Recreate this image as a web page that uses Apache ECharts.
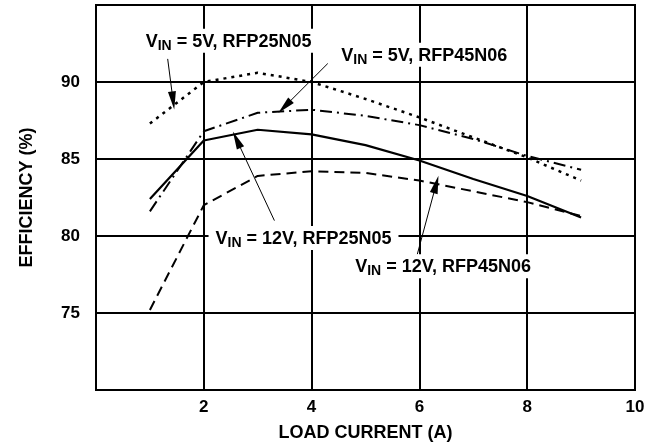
<!DOCTYPE html>
<html>
<head>
<meta charset="utf-8">
<script src="https://cdn.jsdelivr.net/npm/echarts@6/dist/echarts.min.js"></script>
<style>html,body{margin:0;padding:0;background:#fff}#c{width:650px;height:447px}</style>
</head>
<body>
<div id="c"></div>
<script>
// Load current (A)
const loadCurrent = [1, 2, 3, 4, 5, 6, 7, 8, 9];
// Efficiency (%) per curve
const vin5_RFP25N05  = [87.3, 90.0, 90.6, 90.0, 88.9, 87.7, 86.4, 85.1, 83.6];
const vin5_RFP45N06  = [81.6, 86.8, 88.0, 88.2, 87.8, 87.2, 86.3, 85.2, 84.3];
const vin12_RFP25N05 = [82.4, 86.2, 86.9, 86.6, 85.9, 84.9, 83.7, 82.6, 81.2];
const vin12_RFP45N06 = [75.2, 82.0, 83.9, 84.2, 84.1, 83.6, 82.9, 82.2, 81.3];
const xTickLabels = ['2', '4', '6', '8', '10'];
const yTickLabels = ['75', '80', '85', '90'];

const FONT = 'Liberation Sans, Arial, sans-serif';
const pair = (xs, ys) => xs.map((x, i) => [x, ys[i]]);

const rich = {
  a: {fontFamily: FONT, fontSize: 18, fontWeight: 'bold', color: '#000'},
  s: {fontFamily: FONT, fontSize: 14, fontWeight: 'bold', color: '#000', padding: [8, 0, 0, 0]}
};
function lbl(coord, text) {
  return {
    coord: coord,
    symbolSize: 0,
    label: {
      show: true, position: 'inside',
      formatter: '{a|V}{s|IN}{a|' + text + '}',
      rich: rich,
      backgroundColor: '#fff', padding: [2, 7, 0, 7]
    }
  };
}
function arrow(from, to) {
  return [
    {coord: from, symbol: 'none'},
    {coord: to, symbol: 'path://M5,0 L10,22 L0,22 Z', symbolSize: [8, 18]}
  ];
}

const lineBase = (name, data, type, width) => ({
  name: name, type: 'line', data: pair(loadCurrent, data),
  showSymbol: false, smooth: false, z: 3,
  lineStyle: {color: '#000', width: width, type: type}
});

const chart = echarts.init(document.getElementById('c'), null, {renderer: 'canvas'});
chart.setOption({
  animation: false,
  backgroundColor: '#fff',
  grid: {left: 96, right: 15, top: 5, bottom: 54, show: true, borderColor: '#000', borderWidth: 2, containLabel: false},
  xAxis: {
    type: 'value', min: 0, max: 10, interval: 2,
    name: 'LOAD CURRENT (A)', nameLocation: 'middle', nameGap: 34,
    nameTextStyle: {fontFamily: FONT, fontSize: 18, fontWeight: 'bold', color: '#000'},
    axisLine: {show: true, lineStyle: {color: '#000', width: 2}},
    axisTick: {show: false},
    axisLabel: {
      fontFamily: FONT, fontSize: 17, fontWeight: 'bold', color: '#000', margin: 9,
      formatter: v => xTickLabels.includes(String(v)) ? String(v) : ''
    },
    splitLine: {show: true, lineStyle: {color: '#000', width: 2}}
  },
  yAxis: {
    type: 'value', min: 70, max: 95, interval: 5,
    name: 'EFFICIENCY (%)', nameLocation: 'middle', nameGap: 60, nameRotate: 90,
    nameTextStyle: {fontFamily: FONT, fontSize: 18, fontWeight: 'bold', color: '#000'},
    axisLine: {show: true, lineStyle: {color: '#000', width: 2}},
    axisTick: {show: false},
    axisLabel: {
      fontFamily: FONT, fontSize: 17, fontWeight: 'bold', color: '#000', margin: 16,
      formatter: v => yTickLabels.includes(String(v)) ? String(v) : ''
    },
    splitLine: {show: true, lineStyle: {color: '#000', width: 2}}
  },
  series: [
    lineBase('VIN = 5V, RFP25N05', vin5_RFP25N05, [3, 5], 2.5),
    lineBase('VIN = 5V, RFP45N06', vin5_RFP45N06, [12, 5, 2, 5], 2),
    lineBase('VIN = 12V, RFP25N05', vin12_RFP25N05, 'solid', 2.2),
    lineBase('VIN = 12V, RFP45N06', vin12_RFP45N06, [10, 6], 2),
    {
      name: 'annotations', type: 'line', data: [], z: 10,
      markLine: {
        silent: true, animation: false,
        lineStyle: {color: '#000', width: 1, type: 'solid'},
        label: {show: false},
        data: [
          arrow([1.33, 91.5], [1.43, 88.8]),
          arrow([4.30, 91.2], [3.50, 88.4]),
          arrow([3.31, 81.0], [2.61, 86.25]),
          arrow([5.96, 78.8], [6.31, 83.35])
        ]
      },
      markPoint: {
        silent: true, animation: false, symbol: 'rect',
        data: [
          lbl([2.46, 92.68], ' = 5V, RFP25N05'),
          lbl([6.09, 91.77], ' = 5V, RFP45N06'),
          lbl([3.85, 79.87], ' = 12V, RFP25N05'),
          lbl([6.44, 78.03], ' = 12V, RFP45N06')
        ]
      }
    }
  ]
});
</script>
</body>
</html>
